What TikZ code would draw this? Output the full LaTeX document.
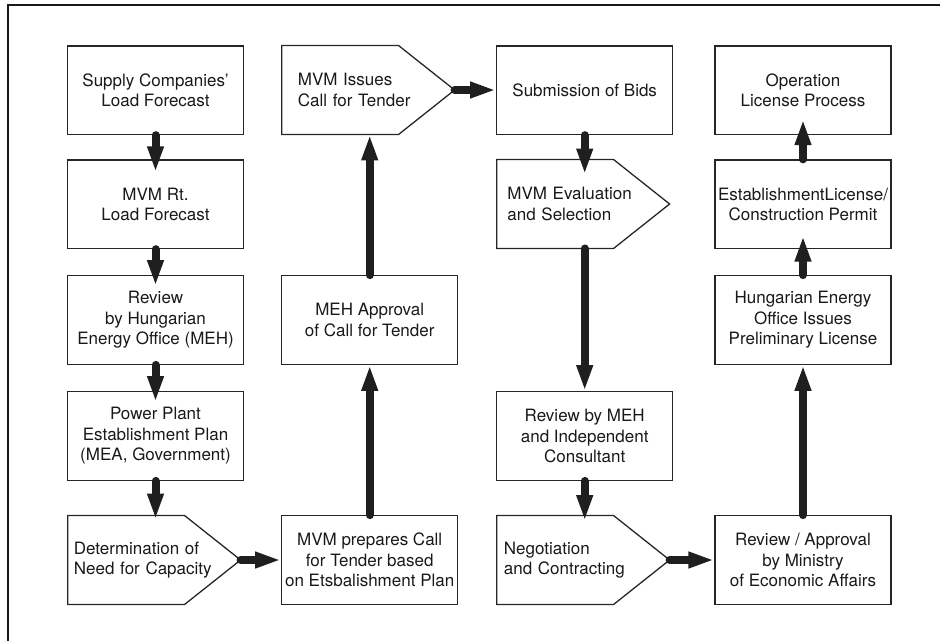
\documentclass[tikz,border=0pt]{standalone}
\usepackage{fontspec}
\setmainfont{TeX Gyre Heros}
\usetikzlibrary{arrows.meta}

\tikzset{
  txt/.style={font=\fontsize{17pt}{20.5pt}\selectfont, text=black!90},
  box/.style={txt, draw=black!85, line width=1.3pt, align=center,
    minimum width=176pt, minimum height=88.5pt, inner sep=2pt},
  pent/.style={txt, align=left, minimum width=172.5pt, minimum height=88.5pt,
    inner ysep=2pt, anchor=west},
  edge/.style={draw=black!85, line width=1.3pt, line join=miter},
  flow/.style={draw=black!88, line width=8pt, line cap=round,
    -{Triangle[length=26pt,width=15pt]}},
}

\begin{document}
\begin{tikzpicture}[x=1pt,y=-1pt]
\useasboundingbox (0,0) rectangle (940,641);

% frame
\draw[line width=2pt, black!90] (8,641) -- (8,4.7) -- (940,4.7);

% column 1
\node[box] (sup) at (155.5,90.25) {Supply Companies’\\Load Forecast};
\node[box] (rt)  at (155.5,204.25) {MVM Rt.\\Load Forecast};
\node[box] (rev) at (155.5,320) {Review\\by Hungarian\\Energy Office (MEH)};
\node[box] (ppe) at (155.5,436) {Power Plant\\Establishment Plan\\(MEA, Government)};
\node[pent, inner xsep=6pt, text width=160.5pt] (det) at (67.7,560)
  {Determination of\\Need for Capacity};

% column 2
\node[pent, inner xsep=16pt, text width=140.5pt] (iss) at (281.7,90)
  {MVM Issues\\Call for Tender};
\node[box] (appr) at (369.7,320) {MEH Approval\\of Call for Tender};
\node[box] (prep) at (369.7,560) {MVM prepares Call\\for Tender based\\on Etsbalishment Plan};

% column 3
\node[box] (sub) at (584.7,90.25) {Submission of Bids};
\node[pent, inner xsep=10.5pt, text width=151.5pt] (eval) at (496.7,204)
  {MVM Evaluation\\and Selection};
\node[box] (rmeh) at (584.7,436) {Review by MEH\\and Independent\\Consultant};
\node[pent, inner xsep=7pt, text width=158.5pt] (neg) at (496.7,560)
  {Negotiation\\and Contracting};

% column 4
\node[box] (op)   at (803,90.25) {Operation\\License Process};
\node[box] (est)  at (803,204.25) {EstablishmentLicense/\\Construction Permit};
\node[box] (hung) at (803,320) {Hungarian Energy\\Office Issues\\Preliminary License};
\node[box] (rapp) at (803,560) {Review / Approval\\by Ministry\\of Economic Affairs};

% pointed outlines
\foreach \p in {det,iss,eval,neg}{
  \draw[edge] (\p.north west) -- ([xshift=-56pt]\p.north east) -- (\p.east)
    -- ([xshift=-56pt]\p.south east) -- (\p.south west) -- cycle;
}

% flow arrows
\draw[flow, shorten >=-13pt] (sup.south) -- (rt.north);
\draw[flow, shorten >=-11pt] (rt.south) -- (rev.north);
\draw[flow, shorten >=-11pt] (rev.south) -- (ppe.north);
\draw[flow, shorten >=-4pt]  (ppe.south) -- (ppe.south |- det.north);
\draw[flow] (det.east) -- (prep.west);
\draw[flow] (prep.north) -- (appr.south);
\draw[flow] (appr.north) -- (appr.north |- iss.south);
\draw[flow] (iss.east) -- (iss.east -| sub.west);
\draw[flow, shorten >=-15pt] (sub.south) -- (sub.south |- eval.north);
\draw[flow] (sub.south |- eval.south) -- (rmeh.north);
\draw[flow, shorten >=-5.5pt] (rmeh.south) -- (rmeh.south |- neg.north);
\draw[flow] (neg.east) -- (rapp.west);
\draw[flow] (rapp.north) -- (hung.south);
\draw[flow, shorten >=-13.5pt] (hung.north) -- (est.south);
\draw[flow, shorten >=-16pt] (est.north) -- (op.south);
\end{tikzpicture}
\end{document}
